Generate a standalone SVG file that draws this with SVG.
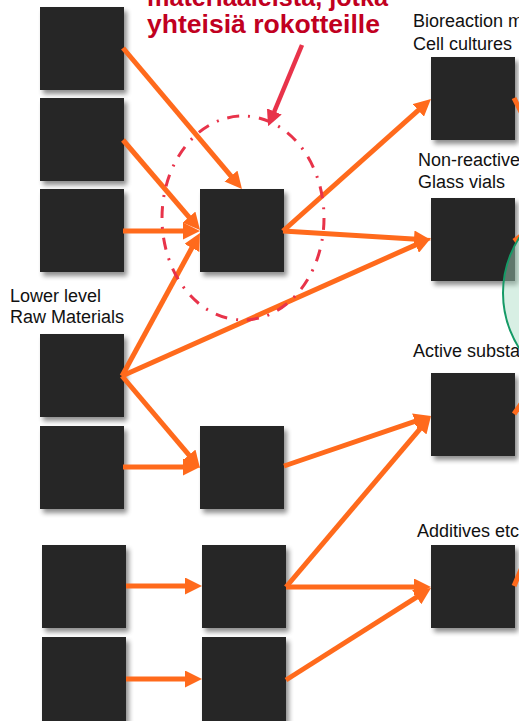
<svg xmlns="http://www.w3.org/2000/svg" width="519" height="721" viewBox="0 0 519 721">
<style>
.box{fill:#262626;filter:url(#sh)}
.lbl{font-family:"Liberation Sans",Arial,sans-serif;font-size:18px;fill:#111}
.title{font-family:"Liberation Sans",Arial,sans-serif;font-weight:bold;font-size:25px;fill:#c1001f}
.con{stroke:#ff6a1c;stroke-width:5;fill:none}
.arr{marker-end:url(#ah)}
</style>
<defs>
<filter id="sh" x="-20%" y="-20%" width="150%" height="150%">
<feGaussianBlur in="SourceAlpha" stdDeviation="2.5"/>
<feOffset dx="3" dy="4" result="b"/>
<feComponentTransfer><feFuncA type="linear" slope="0.45"/></feComponentTransfer>
<feMerge><feMergeNode/><feMergeNode in="SourceGraphic"/></feMerge>
</filter>
<marker id="ah" markerUnits="userSpaceOnUse" markerWidth="17" markerHeight="17" viewBox="0 0 17 17" refX="7" refY="8.5" orient="auto">
<path d="M0,0 L17,8.5 L0,17 z" fill="#ff6a1c"/>
</marker>
<marker id="rh" markerUnits="userSpaceOnUse" markerWidth="16" markerHeight="16" viewBox="0 0 16 16" refX="6" refY="8" orient="auto">
<path d="M0,0 L16,8 L0,16 z" fill="#e8334a"/>
</marker>
</defs>

<g id="title">
<text class="title" x="147" y="6" textLength="241" lengthAdjust="spacingAndGlyphs">materiaaleista, jotka</text>
<text class="title" x="147" y="33" textLength="233" lengthAdjust="spacingAndGlyphs">yhteisiä rokotteille</text>
</g>

<g id="labels">
<text class="lbl" x="413" y="27">Bioreaction m</text>
<text class="lbl" x="413" y="50">Cell cultures</text>
<text class="lbl" x="418" y="166">Non-reactive</text>
<text class="lbl" x="418" y="188">Glass vials</text>
<text class="lbl" x="10" y="302">Lower level</text>
<text class="lbl" x="10" y="323">Raw Materials</text>
<text class="lbl" x="413" y="357">Active substa</text>
<text class="lbl" x="417" y="537">Additives etc</text>
</g>

<g id="L1"><rect class="box" x="40" y="7" width="84" height="83"/></g>
<g id="L2"><rect class="box" x="40" y="98" width="84" height="83"/></g>
<g id="L3"><rect class="box" x="40" y="189" width="84" height="83"/></g>
<g id="L4"><rect class="box" x="40" y="334" width="84" height="83"/></g>
<g id="L5"><rect class="box" x="40" y="426" width="84" height="83"/></g>
<g id="L6"><rect class="box" x="42" y="545" width="84" height="83"/></g>
<g id="L7"><rect class="box" x="42" y="637" width="84" height="84"/></g>
<g id="MA"><rect class="box" x="200" y="189" width="84" height="83"/></g>
<g id="MB"><rect class="box" x="200" y="426" width="84" height="83"/></g>
<g id="MC"><rect class="box" x="202" y="545" width="84" height="83"/></g>
<g id="MD"><rect class="box" x="202" y="637" width="84" height="84"/></g>
<g id="R1"><rect class="box" x="431" y="57" width="84" height="83"/></g>
<g id="R2"><rect class="box" x="431" y="198" width="84" height="83"/></g>
<g id="R3"><rect class="box" x="431" y="373" width="84" height="83"/></g>
<g id="R4"><rect class="box" x="431" y="545" width="84" height="83"/></g>

<g id="connectors">
<line class="con arr" x1="123" y1="48" x2="235.5" y2="181.4"/>
<line class="con arr" x1="123" y1="140" x2="193.5" y2="222.4"/>
<line class="con arr" x1="123" y1="231" x2="190" y2="231"/>
<line class="con arr" x1="122" y1="376" x2="195.2" y2="241.8"/>
<line class="con arr" x1="122" y1="376" x2="421.9" y2="242.1"/>
<line class="con arr" x1="122" y1="376" x2="193.5" y2="460.4"/>
<line class="con arr" x1="123" y1="467" x2="190" y2="467"/>
<line class="con arr" x1="283" y1="231" x2="423.5" y2="105.7"/>
<line class="con arr" x1="283" y1="231" x2="421" y2="239.4"/>
<line class="con arr" x1="284" y1="466" x2="421.5" y2="419.2"/>
<line class="con arr" x1="286" y1="587" x2="424.5" y2="423.6"/>
<line class="con arr" x1="286" y1="587" x2="421" y2="587"/>
<line class="con arr" x1="286" y1="680" x2="422.6" y2="593.4"/>
<line class="con arr" x1="126" y1="586" x2="192" y2="586"/>
<line class="con arr" x1="126" y1="679" x2="192" y2="679"/>
<line class="con" x1="514" y1="98" x2="526" y2="122"/>
<line class="con" x1="514" y1="241" x2="526" y2="232"/>
<line class="con" x1="514" y1="414" x2="526" y2="397"/>
<line class="con" x1="514" y1="586" x2="523" y2="565"/>
</g>

<g id="highlight">
<ellipse cx="243" cy="218" rx="81" ry="102" fill="none" stroke="#e8334a" stroke-width="3" stroke-dasharray="12 9 2 9"/>
<line x1="302" y1="45" x2="272" y2="117" stroke="#e8334a" stroke-width="4.5" marker-end="url(#rh)"/>
</g>

<g id="green">
<circle cx="605.5" cy="293" r="102.5" fill="#a9dcc3" fill-opacity="0.45" stroke="#159a66" stroke-width="2"/>
</g>
</svg>
